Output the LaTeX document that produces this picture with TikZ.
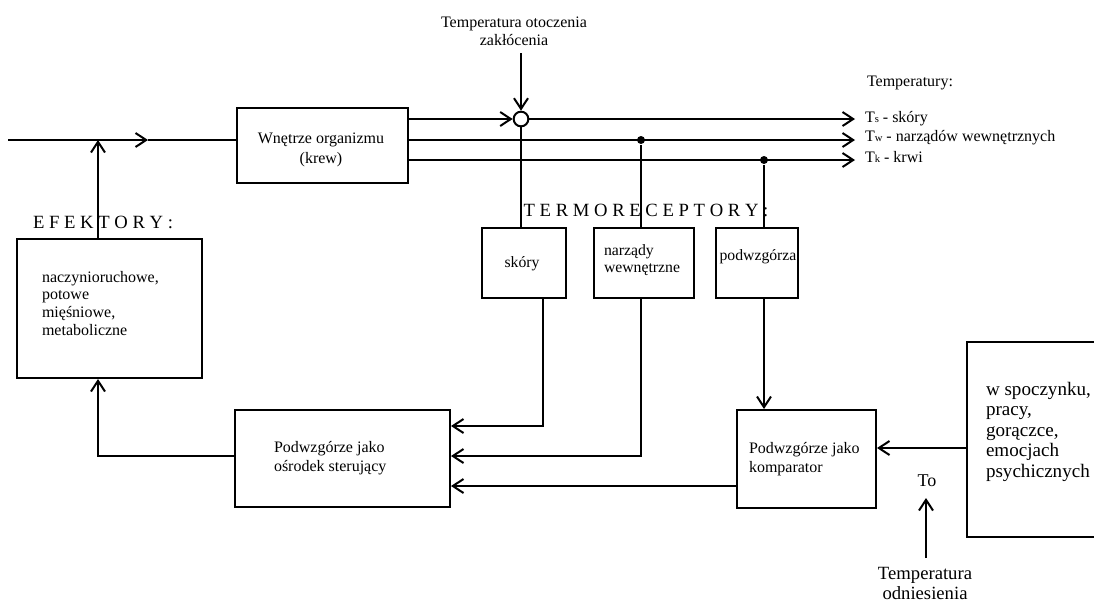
\documentclass[tikz,border=0pt]{standalone}
\usepackage{fontspec}
\setmainfont{Liberation Serif}
\usetikzlibrary{arrows.meta}
\begin{document}
\begin{tikzpicture}[x=0.75pt,y=-0.75pt,line width=1.5pt,
  box/.style={draw,line width=1.5pt,anchor=north west,inner sep=0pt},
  ar/.style={-{Straight Barb[length=8pt,width=10.5pt,line width=1.5pt]}},
  t12/.style={font=\fontsize{12}{15}\selectfont,inner sep=0pt},
  t11/.style={font=\fontsize{11.8}{12.75}\selectfont,inner sep=0pt},
  t14/.style={font=\fontsize{14}{15}\selectfont,inner sep=0pt},
  dot/.style={circle,fill,inner sep=0pt,minimum size=6pt},
]
\useasboundingbox (0,0) rectangle (1094,601);

% boxes
\node[box,minimum width=128.25pt,minimum height=56.25pt] (wn) at (236,107) {};
\node[box,minimum width=138.75pt,minimum height=104.25pt] (ef) at (16,238) {};
\node[box,minimum width=63pt,minimum height=52.5pt] (sk) at (481,227) {};
\node[box,minimum width=75pt,minimum height=52.5pt] (na) at (593,227) {};
\node[box,minimum width=61.5pt,minimum height=52.5pt] (po) at (715,227) {};
\node[box,minimum width=161.25pt,minimum height=72.75pt] (os) at (234,409) {};
\node[box,minimum width=104.25pt,minimum height=73.5pt] (ko) at (736,409) {};
\draw (1094,342) -- (967,342) -- (967,537) -- (1094,537);
\node[circle,draw,line width=1.5pt,minimum size=11pt,inner sep=0pt] (sum) at (521,119) {};

% texts
\node[t12,align=center] (wnt) at (321,150) {Wnętrze organizmu\\(krew)};
\node[t12,font=\fontsize{12}{13.3}\selectfont,align=left,anchor=north west] (eft) at (41,270) {naczynioruchowe,\\potowe\\mięśniowe,\\metaboliczne};
\node[t11] (skt) at (522,264) {skóry};
\node[t11,align=left,anchor=north west] (nat) at (603,244) {narządy\\wewnętrzne};
\node[t11] (pot) at (758,257) {podwzgórza};
\node[t12,font=\fontsize{12}{14.5}\selectfont,align=left,anchor=north west] (ost) at (273,440) {Podwzgórze jako\\ośrodek sterujący};
\node[t12,font=\fontsize{12}{14.25}\selectfont,align=left,anchor=north west] (kot) at (748,441) {Podwzgórze jako\\komparator};
\node[font=\fontsize{14.3}{15.4}\selectfont,inner sep=0pt,align=left,anchor=north west] (ctx) at (985,381) {w spoczynku,\\pracy,\\gorączce,\\emocjach\\psychicznych};
\node[t12,font=\fontsize{12}{13.5}\selectfont,align=center] (dis) at (514,31) {Temperatura otoczenia\\zakłócenia};
\node[t12,anchor=west] (tem) at (866,83) {Temperatury:};
\node[t12,anchor=west] (tsl) at (864,119) {T{\fontsize{8}{8}\selectfont s} - skóry};
\node[t12,anchor=west] (twl) at (864,138) {T{\fontsize{8}{8}\selectfont w} - narządów wewnętrznych};
\node[t12,anchor=west] (tkl) at (864,157) {T{\fontsize{8}{8}\selectfont k} - krwi};
\node[t14] (trl) at (646,210) {T E R M O R E C E P T O R Y :};
\node[t14] (efl) at (103,222) {E F E K T O R Y :};
\node[font=\fontsize{13.5}{15}\selectfont,inner sep=0pt] (tol) at (927,481) {To};
\node[t14,align=center] (odl) at (925,583) {Temperatura\\odniesienia};

% coordinates
\coordinate (in) at (8,140);
\coordinate (inm) at (148,140);
\coordinate (j) at (98,140);
\coordinate (ts) at (855,119);
\coordinate (tw) at (855,140);
\coordinate (tk) at (855,160);
\coordinate (dist) at (521,53);
\node[dot] (d1) at (641,140) {};
\node[dot] (d2) at (764,160) {};
\coordinate (s1) at (543,426);
\coordinate (s2) at (641,456);
\coordinate (s3) at (0,486);
\coordinate (s4) at (0,456);
\coordinate (ctxw) at (967,448);
\coordinate (tb) at (926,558);
\coordinate (tt) at (926,498);

% connectors
\draw[ar] (in) -- (inm);
\draw (inm) -- (wn.west |- in);
\draw[ar] (j |- ef.north) -- (j);
\draw[ar] (wn.east |- sum) -- (sum.west);
\draw[ar] (sum.east) -- (ts);
\draw[ar] (wn.east |- tw) -- (tw);
\draw[ar] (wn.east |- tk) -- (tk);
\draw[ar] (dist) -- (sum.north);
\draw (sum.south) -- (sum.south |- sk.north);
\draw (d1) -- (d1 |- na.north);
\draw (d2) -- (d2 |- po.north);
\draw[ar] (s1 |- sk.south) |- (os.east |- s1);
\draw[ar] (s2 |- na.south) |- (os.east |- s2);
\draw[ar] (d2 |- po.south) -- (d2 |- ko.north);
\draw[ar] (ko.west |- s3) -- (os.east |- s3);
\draw[ar] (ctxw) -- (ko.east |- ctxw);
\draw[ar] (tb) -- (tt);
\draw[ar] (os.west |- s4) -| (j |- ef.south);
\end{tikzpicture}
\end{document}
